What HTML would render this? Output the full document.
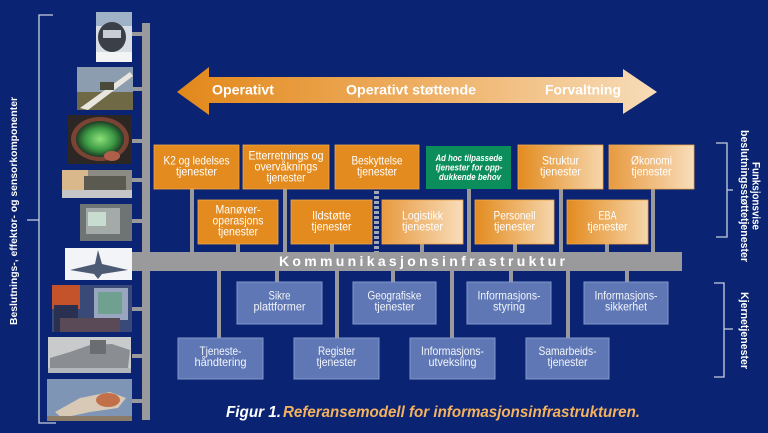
<!DOCTYPE html>
<html><head><meta charset="utf-8"><style>
html,body{margin:0;padding:0;background:#0a2473;}
svg{display:block;}
text{font-family:"Liberation Sans",sans-serif;}
</style></head><body>
<svg width="768" height="433" viewBox="0 0 768 433" xmlns="http://www.w3.org/2000/svg">
<defs>
<linearGradient id="arr" x1="177" y1="0" x2="657" y2="0" gradientUnits="userSpaceOnUse">
<stop offset="0" stop-color="#e2881a"/><stop offset="0.5" stop-color="#eeae62"/><stop offset="1" stop-color="#f7dcb8"/></linearGradient>
<linearGradient id="g1" x1="0" y1="0" x2="1" y2="0"><stop offset="0" stop-color="#e38b1f"/><stop offset="1" stop-color="#f6d6ab"/></linearGradient>
<linearGradient id="g2" x1="0" y1="0" x2="1" y2="0"><stop offset="0" stop-color="#e89a40"/><stop offset="1" stop-color="#f8ddba"/></linearGradient>
<radialGradient id="rad" cx="0.5" cy="0.5" r="0.5"><stop offset="0" stop-color="#8fe07a"/><stop offset="0.6" stop-color="#3c9a44"/><stop offset="1" stop-color="#1d3a24"/></radialGradient>
</defs>
<rect x="0" y="0" width="768" height="433" fill="#0a2473"/>

<!-- left bracket -->
<path d="M53,15 H39 V423 H56 M27,220 H39" stroke="#c8cfe2" stroke-width="1.3" fill="none"/>
<text transform="translate(17,325) rotate(-90)" font-size="10" font-weight="bold" fill="#ffffff" textLength="228" lengthAdjust="spacingAndGlyphs">Beslutnings-, effektor- og sensorkomponenter</text>

<!-- vertical bar and stubs -->
<rect x="142" y="23" width="8" height="397" fill="#9a9a9c"/>
<g fill="#9a9a9c">
<rect x="132" y="32" width="11" height="4"/>
<rect x="132" y="87" width="11" height="4"/>
<rect x="132" y="139" width="11" height="4"/>
<rect x="132" y="178" width="11" height="4"/>
<rect x="132" y="219" width="11" height="4"/>
<rect x="132" y="258" width="11" height="4"/>
<rect x="132" y="307" width="11" height="4"/>
<rect x="132" y="354" width="11" height="4"/>
<rect x="132" y="399" width="11" height="4"/>
</g>

<!-- images -->
<g>
<rect x="96" y="12" width="36" height="50" fill="#d6dde4"/>
<rect x="96" y="12" width="36" height="14" fill="#9fb2c8"/>
<ellipse cx="112" cy="37" rx="14" ry="15" fill="#3b3f48"/>
<rect x="103" y="30" width="18" height="8" fill="#c9ced6"/>
<rect x="96" y="52" width="36" height="10" fill="#f2f3f5"/>

<rect x="77" y="67" width="56" height="43" fill="#8d9db0"/>
<rect x="77" y="92" width="56" height="18" fill="#6f6a45"/>
<path d="M80,108 L130,72 L133,76 L88,110 Z" fill="#e9e6e0"/>
<rect x="100" y="82" width="14" height="8" fill="#4a4a3a"/>

<rect x="68" y="115" width="64" height="49" fill="#2c2624"/>
<ellipse cx="100" cy="139" rx="29" ry="22" fill="#7a4334"/>
<ellipse cx="100" cy="139" rx="24" ry="18" fill="url(#rad)"/>
<ellipse cx="112" cy="156" rx="8" ry="5" fill="#b0604a"/>

<rect x="62" y="170" width="70" height="28" fill="#8c8c84"/>
<rect x="62" y="170" width="26" height="20" fill="#d9b98c"/>
<rect x="84" y="176" width="42" height="14" fill="#5a5a50"/>
<rect x="62" y="190" width="70" height="8" fill="#c4c6c8"/>

<rect x="80" y="204" width="52" height="37" fill="#6e7474"/>
<rect x="86" y="208" width="34" height="26" fill="#a4aaa8"/>
<rect x="88" y="212" width="18" height="14" fill="#c8dcd0"/>

<rect x="65" y="248" width="67" height="32" fill="#f3f4f8"/>
<path d="M70,270 L95,264 L98,250 L102,264 L128,270 L102,274 L98,279 L94,274 Z" fill="#4c5a74"/>

<rect x="52" y="285" width="80" height="47" fill="#3a4a78"/>
<rect x="52" y="285" width="28" height="24" fill="#c4522a"/>
<rect x="54" y="305" width="24" height="27" fill="#2a3050"/>
<rect x="94" y="288" width="34" height="32" fill="#9aa6c0"/>
<rect x="98" y="292" width="24" height="22" fill="#6fa090"/>
<rect x="60" y="318" width="60" height="14" fill="#5a4a58"/>

<rect x="48" y="337" width="83" height="36" fill="#c8cacc"/>
<path d="M50,358 L70,352 L90,345 L112,344 L130,350 L128,368 L50,368 Z" fill="#8a8d92"/>
<rect x="90" y="340" width="16" height="14" fill="#6a6d72"/>
<rect x="48" y="368" width="83" height="5" fill="#b4b8bc"/>

<rect x="47" y="379" width="85" height="42" fill="#7f95b6"/>
<path d="M55,412 L80,398 L110,392 L126,398 L118,408 L90,412 L62,418 Z" fill="#d8c8b6"/>
<ellipse cx="108" cy="400" rx="12" ry="7" fill="#c2704a"/>
<rect x="47" y="416" width="85" height="5" fill="#8a7a66"/>
</g>

<!-- arrow -->
<polygon points="177,92 209,67 209,77 623,77 623,69 657,92 623,114 623,103 209,103 209,115" fill="url(#arr)"/>
<g font-size="14" font-weight="bold" fill="#ffffff">
<text x="212" y="94.5" textLength="62" lengthAdjust="spacingAndGlyphs">Operativt</text>
<text x="346" y="94.5" textLength="130" lengthAdjust="spacingAndGlyphs">Operativt støttende</text>
<text x="545" y="94.5" textLength="76" lengthAdjust="spacingAndGlyphs">Forvaltning</text>
</g>

<!-- connectors above bus -->
<g fill="#9a9a9c">
<rect x="190" y="189" width="4" height="64"/>
<rect x="236" y="244" width="4" height="9"/>
<rect x="283" y="189" width="4" height="64"/>
<rect x="330" y="244" width="4" height="9"/>
<rect x="420" y="244" width="4" height="9"/>
<rect x="467" y="189" width="4" height="64"/>
<rect x="513" y="244" width="4" height="9"/>
<rect x="559" y="189" width="4" height="64"/>
<rect x="605" y="244" width="4" height="9"/>
<rect x="651" y="189" width="4" height="64"/>
</g>
<line x1="376.5" y1="191" x2="376.5" y2="252" stroke="#a4a8b4" stroke-width="5" stroke-dasharray="3 2"/>

<!-- connectors below bus -->
<g fill="#9a9a9c">
<rect x="217" y="270" width="4" height="68"/>
<rect x="275" y="270" width="4" height="12"/>
<rect x="335" y="270" width="4" height="68"/>
<rect x="391" y="270" width="4" height="12"/>
<rect x="450" y="270" width="4" height="68"/>
<rect x="509" y="270" width="4" height="12"/>
<rect x="566" y="270" width="4" height="68"/>
<rect x="625" y="270" width="4" height="12"/>
</g>

<!-- bus -->
<rect x="132" y="252" width="550" height="19" fill="#9a9a9c"/>
<text x="279" y="266" font-size="14" font-weight="bold" fill="#ffffff" textLength="286" lengthAdjust="spacing">Kommunikasjonsinfrastruktur</text>

<!-- orange boxes -->
<g stroke="#f0a848" stroke-width="0.8">
<rect x="154" y="145" width="85" height="44" fill="#e38b1f"/>
<rect x="243" y="145" width="86" height="44" fill="#e38b1f"/>
<rect x="335" y="145" width="84" height="44" fill="#e38b1f"/>
<rect x="518" y="145" width="85" height="44" fill="url(#g1)"/>
<rect x="609" y="145" width="85" height="44" fill="url(#g2)"/>
<rect x="198" y="200" width="80" height="44" fill="#e38b1f"/>
<rect x="291" y="200" width="81" height="44" fill="#e38b1f"/>
<rect x="382" y="200" width="81" height="44" fill="url(#g2)"/>
<rect x="475" y="200" width="79" height="44" fill="url(#g1)"/>
<rect x="567" y="200" width="81" height="44" fill="url(#g1)"/>
</g>
<rect x="426" y="146" width="85" height="43" fill="#0b8e5c"/>

<g font-size="12" fill="#ffffff" text-anchor="middle">
<text x="196.5" y="164.5" textLength="66" lengthAdjust="spacingAndGlyphs">K2 og ledelses</text>
<text x="196.5" y="175.5" textLength="41" lengthAdjust="spacingAndGlyphs">tjenester</text>
<text x="286" y="159.5" textLength="75" lengthAdjust="spacingAndGlyphs">Etterretnings og</text>
<text x="286" y="170.5" textLength="63" lengthAdjust="spacingAndGlyphs">overvåknings</text>
<text x="286" y="181.5" textLength="39" lengthAdjust="spacingAndGlyphs">tjenester</text>
<text x="377" y="164.5" textLength="51" lengthAdjust="spacingAndGlyphs">Beskyttelse</text>
<text x="377" y="175.5" textLength="40" lengthAdjust="spacingAndGlyphs">tjenester</text>
<text x="560.5" y="164.5" textLength="37" lengthAdjust="spacingAndGlyphs">Struktur</text>
<text x="560.5" y="175.5" textLength="41" lengthAdjust="spacingAndGlyphs">tjenester</text>
<text x="651.5" y="164.5" textLength="41" lengthAdjust="spacingAndGlyphs">Økonomi</text>
<text x="651.5" y="175.5" textLength="40" lengthAdjust="spacingAndGlyphs">tjenester</text>
<text x="238" y="213.5" textLength="45" lengthAdjust="spacingAndGlyphs">Manøver-</text>
<text x="238" y="224.5" textLength="51" lengthAdjust="spacingAndGlyphs">operasjons</text>
<text x="238" y="235.5" textLength="40" lengthAdjust="spacingAndGlyphs">tjenester</text>
<text x="331.5" y="219.5" textLength="39" lengthAdjust="spacingAndGlyphs">Ildstøtte</text>
<text x="331.5" y="230.5" textLength="40" lengthAdjust="spacingAndGlyphs">tjenester</text>
<text x="422.5" y="219.5" textLength="41" lengthAdjust="spacingAndGlyphs">Logistikk</text>
<text x="422.5" y="230.5" textLength="41" lengthAdjust="spacingAndGlyphs">tjenester</text>
<text x="514.5" y="219.5" textLength="42" lengthAdjust="spacingAndGlyphs">Personell</text>
<text x="514.5" y="230.5" textLength="41" lengthAdjust="spacingAndGlyphs">tjenester</text>
<text x="607.5" y="219.5" textLength="18" lengthAdjust="spacingAndGlyphs">EBA</text>
<text x="607.5" y="230.5" textLength="40" lengthAdjust="spacingAndGlyphs">tjenester</text>
</g>
<g font-size="9.5" font-weight="bold" font-style="italic" fill="#ffffff" text-anchor="middle">
<text x="469" y="161" textLength="67" lengthAdjust="spacingAndGlyphs">Ad hoc tilpassede</text>
<text x="469" y="170.5" textLength="67" lengthAdjust="spacingAndGlyphs">tjenester for opp-</text>
<text x="470" y="180" textLength="62" lengthAdjust="spacingAndGlyphs">dukkende behov</text>
</g>

<!-- blue boxes -->
<g fill="#5f78b5" stroke="#8297c9" stroke-width="1">
<rect x="237" y="282" width="85" height="42"/>
<rect x="353" y="282" width="83" height="42"/>
<rect x="467" y="282" width="84" height="42"/>
<rect x="584" y="282" width="84" height="42"/>
<rect x="178" y="338" width="85" height="41"/>
<rect x="294" y="338" width="85" height="41"/>
<rect x="410" y="338" width="85" height="41"/>
<rect x="526" y="338" width="83" height="41"/>
</g>
<g font-size="12" fill="#f2f4fa" text-anchor="middle">
<text x="279.5" y="299.5" textLength="22" lengthAdjust="spacingAndGlyphs">Sikre</text>
<text x="279.5" y="310.5" textLength="52" lengthAdjust="spacingAndGlyphs">plattformer</text>
<text x="394.5" y="299.5" textLength="54" lengthAdjust="spacingAndGlyphs">Geografiske</text>
<text x="394.5" y="310.5" textLength="40" lengthAdjust="spacingAndGlyphs">tjenester</text>
<text x="509" y="299.5" textLength="63" lengthAdjust="spacingAndGlyphs">Informasjons-</text>
<text x="509" y="310.5" textLength="32" lengthAdjust="spacingAndGlyphs">styring</text>
<text x="626" y="299.5" textLength="63" lengthAdjust="spacingAndGlyphs">Informasjons-</text>
<text x="626" y="310.5" textLength="42" lengthAdjust="spacingAndGlyphs">sikkerhet</text>
<text x="220.5" y="355" textLength="42" lengthAdjust="spacingAndGlyphs">Tjeneste-</text>
<text x="220.5" y="366" textLength="52" lengthAdjust="spacingAndGlyphs">håndtering</text>
<text x="336.5" y="355" textLength="37" lengthAdjust="spacingAndGlyphs">Register</text>
<text x="336.5" y="366" textLength="40" lengthAdjust="spacingAndGlyphs">tjenester</text>
<text x="452.5" y="355" textLength="63" lengthAdjust="spacingAndGlyphs">Informasjons-</text>
<text x="452.5" y="366" textLength="48" lengthAdjust="spacingAndGlyphs">utveksling</text>
<text x="567.5" y="355" textLength="58" lengthAdjust="spacingAndGlyphs">Samarbeids-</text>
<text x="567.5" y="366" textLength="40" lengthAdjust="spacingAndGlyphs">tjenester</text>
</g>

<!-- right brackets -->
<path d="M716,143 H727 V237 H716 M727,190 H733 M714,283 H724 V377 H714 M724,329 H733" stroke="#c8cfe2" stroke-width="1.3" fill="none"/>
<g font-size="11" font-weight="bold" fill="#ffffff">
<text transform="translate(752.5,162) rotate(90)" textLength="68" lengthAdjust="spacingAndGlyphs">Funksjonsvise</text>
<text transform="translate(741,130) rotate(90)" textLength="132" lengthAdjust="spacingAndGlyphs">beslutningsstøttetjenester</text>
<text transform="translate(741,292) rotate(90)" textLength="77" lengthAdjust="spacingAndGlyphs">Kjernetjenester</text>
</g>

<!-- caption -->
<g font-size="16" font-weight="bold" font-style="italic">
<text x="226" y="417" fill="#ffffff" textLength="55" lengthAdjust="spacingAndGlyphs">Figur 1.</text>
<text x="283" y="417" fill="#f5b25e" textLength="357" lengthAdjust="spacingAndGlyphs">Referansemodell for informasjonsinfrastrukturen.</text>
</g>
</svg>
</body></html>
